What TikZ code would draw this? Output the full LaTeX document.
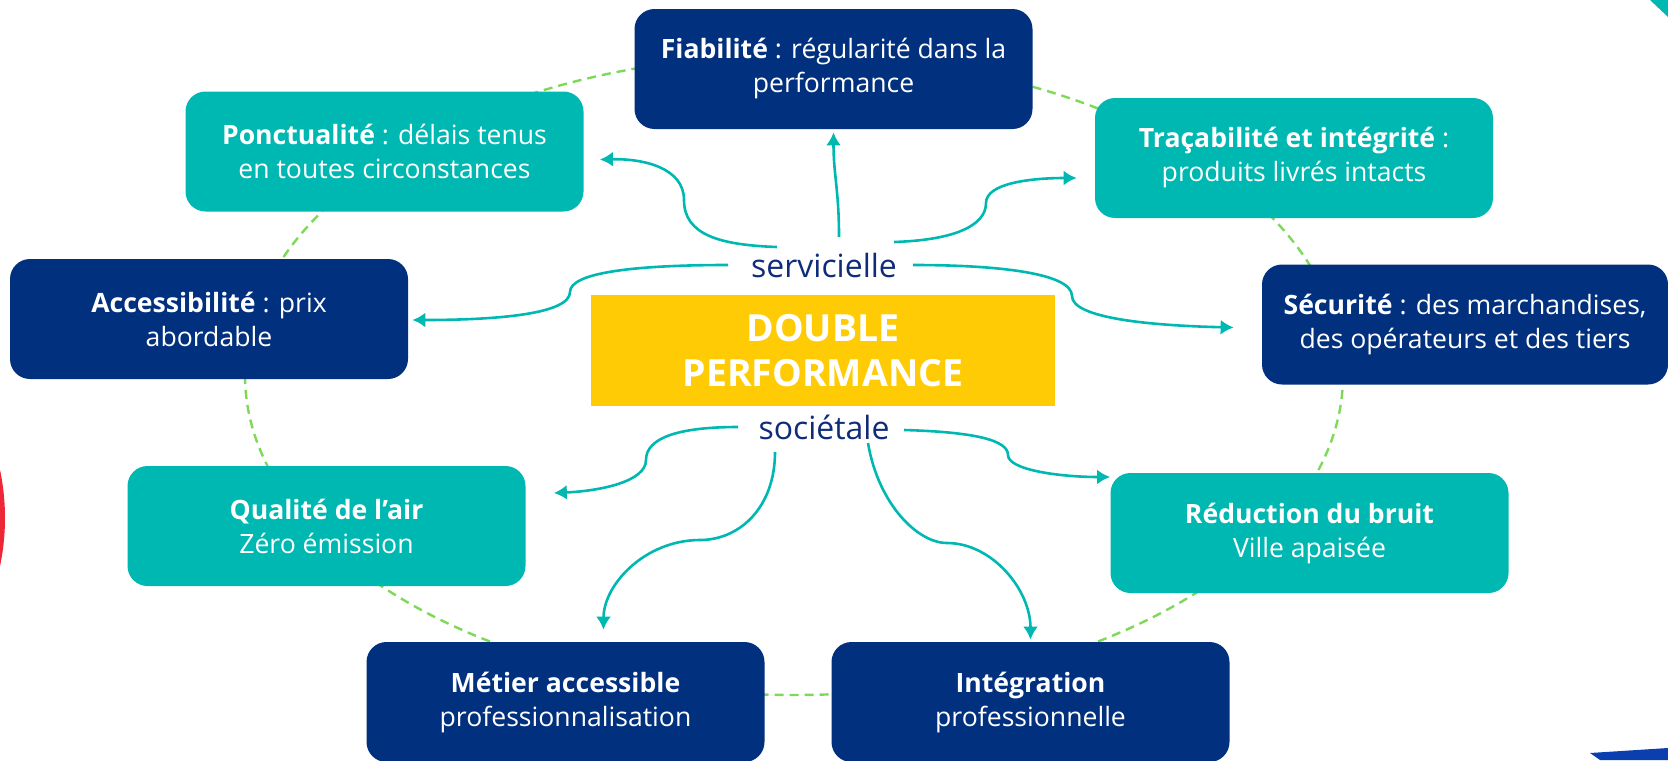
\documentclass[tikz,border=0pt]{standalone}
\usepackage{fontspec}
\setmainfont{Open Sans}
\usepackage{tikz}
\usetikzlibrary{arrows.meta}
\definecolor{bluebox}{HTML}{00307E}
\definecolor{tealbox}{HTML}{00B8B2}
\definecolor{yellowbox}{HTML}{FFCB05}
\definecolor{dashgreen}{HTML}{7ED957}
\definecolor{labelblue}{HTML}{0F2C7A}
\definecolor{decored}{HTML}{EE2737}
\definecolor{decoblue}{HTML}{0B3FAF}

\begin{document}
\begin{tikzpicture}[x=0.5pt,y=-0.5pt,
    box/.style={rounded corners=10pt,minimum width=199pt,minimum height=60pt,
        align=center,text=white,font=\fontsize{13.3}{17}\selectfont},
    darkbox/.style={box,fill=bluebox},
    lightbox/.style={box,fill=tealbox},
    side/.style={text=labelblue,font=\fontsize{16}{18}\selectfont,inner sep=0pt,anchor=base},
    link/.style={draw=tealbox,line width=1.3pt,-{Latex[length=6.5pt,width=7.5pt]}}]
    \useasboundingbox (0,0) rectangle (1668,760);
    \clip (0,0) rectangle (1668,760);
    % bits of the slide around the picture
    \fill[decored] (-200,518) ellipse (205 and 219);
    \fill[tealbox] (1650,0) -- (1668,0) -- (1668,17) -- cycle;
    \fill[decoblue] (1590,753) -- (1668,748) -- (1668,760) -- (1600,760) -- cycle;
    % dashed ring behind the boxes
    \draw[dashgreen,line width=1.2pt,dash pattern=on 4.5pt off 3pt] (794,375) ellipse (549 and 320);

    \node[fill=yellowbox,minimum width=232pt,minimum height=55.5pt,align=center,text=white,
        font=\fontsize{18.7}{22.5}\selectfont\bfseries] (double) at (823,350.5) {DOUBLE\\PERFORMANCE};
    \node[side] (serv) at (824,277) {servicielle};
    \node[side] (soc) at (824,439) {sociétale};

    \node[darkbox] (fiab) at (833.5,69) {\textbf{Fiabilité} : régularité dans la\\performance};
    \node[lightbox] (ponct) at (384.5,151.5) {\textbf{Ponctualité} : délais tenus\\en toutes circonstances};
    \node[lightbox] (trac) at (1294,158) {\textbf{Traçabilité et intégrité} :\\produits livrés intacts};
    \node[darkbox] (access) at (209,319) {\textbf{Accessibilité} : prix\\abordable};
    \node[darkbox,minimum width=203pt] (secu) at (1465,324.5) {\textbf{Sécurité} : des marchandises,\\des opérateurs et des tiers};
    \node[lightbox] (qual) at (326.5,526) {\textbf{Qualité de l’air}\\Zéro émission};
    \node[lightbox] (reduc) at (1309.5,533) {\textbf{Réduction du bruit}\\Ville apaisée};
    \node[darkbox] (metier) at (565.5,702) {\textbf{Métier accessible}\\professionnalisation};
    \node[darkbox] (integ) at (1030.5,702) {\textbf{Intégration}\\professionnelle};

    % servicielle
    \draw[link] ([shift={(-47,-30)}]serv.base) .. controls +(-57,-2) and +(0,35) .. (684,200)
        .. controls +(0,-32) and +(44,-1) .. ([shift={(16,8)}]ponct.east);
    \draw[link] ([shift={(15,-40)}]serv.base) .. controls +(0,-47) and +(0,43) .. ([shift={(0,3)}]fiab.south);
    \draw[link] ([shift={(70,-35)}]serv.base) .. controls +(62,-2) and +(0,22) .. (986,203)
        .. controls +(0,-20) and +(-45,0) .. ([shift={(-18,20)}]trac.west);
    \draw[link] ([shift={(89,-12)}]serv.base) .. controls +(90,0) and +(0,-22) .. (1072,296)
        .. controls +(0,22) and +(-85,-2) .. ([shift={(-28,3)}]secu.west);
    \draw[link] ([shift={(-96,-12)}]serv.base) .. controls +(-90,0) and +(0,-20) .. (570,292)
        .. controls +(0,22) and +(85,0) .. ([shift={(4,1)}]access.east);
    % sociétale
    \draw[link] ([shift={(-86,-12)}]soc.base) .. controls +(-60,0) and +(0,-22) .. (646,460)
        .. controls +(0,22) and +(45,-2) .. ([shift={(28,-33)}]qual.east);
    \draw[link] ([shift={(-49,13)}]soc.base) .. controls +(0,55) and +(40,0) .. (700,540)
        .. controls +(-55,0) and +(0,-45) .. ([shift={(38,-12)}]metier.north);
    \draw[link] ([shift={(44,4)}]soc.base) .. controls +(10,60) and +(-30,0) .. (947,543)
        .. controls +(45,0) and +(0,-50) .. ([shift={(0,-2)}]integ.north);
    \draw[link] ([shift={(80,-9)}]soc.base) .. controls +(70,2) and +(0,-15) .. (1008,455)
        .. controls +(0,15) and +(-50,0) .. ([shift={(0,-56)}]reduc.west);
\end{tikzpicture}
\end{document}
